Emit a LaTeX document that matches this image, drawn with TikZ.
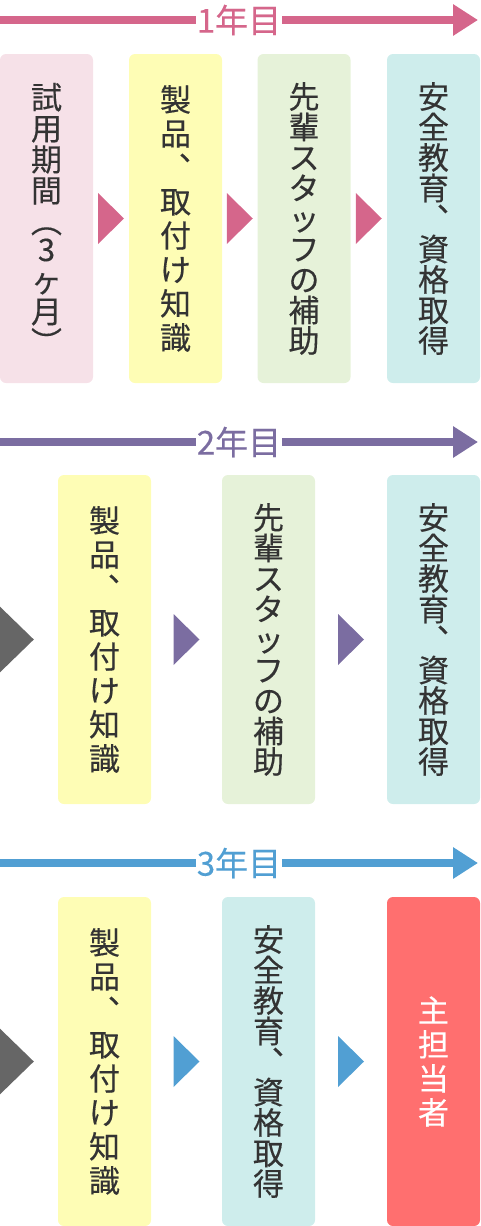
\documentclass[tikz,border=0pt]{standalone}
\usepackage{fontspec}
\newfontfamily\jpfont[FakeBold=0.3]{Noto Sans CJK JP}
\usepackage{tikz}
\usetikzlibrary{calc,arrows.meta}
\usepackage{color}

\definecolor{yearone}{HTML}{D5668B}
\definecolor{yeartwo}{HTML}{7B6DA1}
\definecolor{yearthree}{HTML}{519FD3}
\definecolor{boxpink}{HTML}{F6E1E8}
\definecolor{boxyellow}{HTML}{FEFDB5}
\definecolor{boxgreen}{HTML}{E6F2D9}
\definecolor{boxcyan}{HTML}{CEEDEC}
\definecolor{boxred}{HTML}{FF6F6F}
\definecolor{ink}{HTML}{333333}
\definecolor{startgrey}{HTML}{666666}

\begin{document}
\begin{tikzpicture}[x=1pt, y=-1pt]

        % Setup the styles for the stages and the year arrows
        \tikzset{stage/.style={rounded corners=6pt,
                               minimum width=93pt,
                               minimum height=329pt,
                               inner sep=0pt,
                               align=center,
                               text=ink},
                 pitch/.style={font=\jpfont\fontsize{31}{#1}\selectfont},
                 year line/.style={line width=8pt,
                                   -{Triangle[length=25pt, width=30pt]}},
                 year label/.style={fill=white,
                                    inner xsep=1pt,
                                    inner ysep=0pt,
                                    font=\jpfont\fontsize{33}{33}\selectfont}}

        \useasboundingbox (0,0) rectangle (480,1226);

        % First year
        \coordinate (y1s) at (0,20);
        \coordinate (y1e) at (478,20);
        \draw[year line, draw=yearone]
            (y1s) -- node[year label, text=yearone] (y1) {1年目} (y1e);

        \node[stage, pitch=31, fill=boxpink]     at (46.5, 218.5)  (s1a) {試\\用\\期\\間\\︵\\[-3pt]3\\ヶ\\月\\︶};
        \node[stage, pitch=34, fill=boxyellow]   at (175.5, 218.5) (s1b) {製\\品\\︑\\取\\付\\け\\知\\識};
        \node[stage, pitch=30.5, fill=boxgreen]  at (304, 218.5)   (s1c) {先\\輩\\ス\\タ\\ッ\\フ\\の\\補\\助};
        \node[stage, pitch=30.5, fill=boxcyan]   at (433.5, 218.5) (s1d) {安\\全\\教\\育\\︑\\資\\格\\取\\得};

        \foreach \a/\b in {s1a/s1b, s1b/s1c, s1c/s1d}
            \fill[yearone] ($(\a.east)!0.5!(\b.west)$) ++(-13,-25.5) -- ++(26,25.5) -- ++(-26,25.5) -- cycle;

        % Second year
        \coordinate (y2s) at (0,442);
        \coordinate (y2e) at (478,442);
        \draw[year line, draw=yeartwo]
            (y2s) -- node[year label, text=yeartwo] (y2) {2年目} (y2e);

        \node[stage, pitch=34, fill=boxyellow]   at (104.5, 639.5) (s2a) {製\\品\\︑\\取\\付\\け\\知\\識};
        \node[stage, pitch=30.5, fill=boxgreen]  at (268.5, 639.5) (s2b) {先\\輩\\ス\\タ\\ッ\\フ\\の\\補\\助};
        \node[stage, pitch=30.5, fill=boxcyan]   at (433.5, 639.5) (s2c) {安\\全\\教\\育\\︑\\資\\格\\取\\得};

        \fill[startgrey] ($(s2a.west)+(-58,-33)$) -- ($(s2a.west)+(-24,0)$) -- ($(s2a.west)+(-58,33)$) -- cycle;
        \foreach \a/\b in {s2a/s2b, s2b/s2c}
            \fill[yeartwo] ($(\a.east)!0.5!(\b.west)$) ++(-13,-25.5) -- ++(26,25.5) -- ++(-26,25.5) -- cycle;

        % Third year
        \coordinate (y3s) at (0,863);
        \coordinate (y3e) at (478,863);
        \draw[year line, draw=yearthree]
            (y3s) -- node[year label, text=yearthree] (y3) {3年目} (y3e);

        \node[stage, pitch=34, fill=boxyellow]   at (104.5, 1061.5) (s3a) {製\\品\\︑\\取\\付\\け\\知\\識};
        \node[stage, pitch=30.5, fill=boxcyan]   at (268.5, 1061.5) (s3b) {安\\全\\教\\育\\︑\\資\\格\\取\\得};
        \node[stage, pitch=34, fill=boxred, text=white] at (433.5, 1061.5) (s3c) {主\\担\\当\\者};

        \fill[startgrey] ($(s3a.west)+(-58,-33)$) -- ($(s3a.west)+(-24,0)$) -- ($(s3a.west)+(-58,33)$) -- cycle;
        \foreach \a/\b in {s3a/s3b, s3b/s3c}
            \fill[yearthree] ($(\a.east)!0.5!(\b.west)$) ++(-13,-25.5) -- ++(26,25.5) -- ++(-26,25.5) -- cycle;
    \end{tikzpicture}
\end{document}
